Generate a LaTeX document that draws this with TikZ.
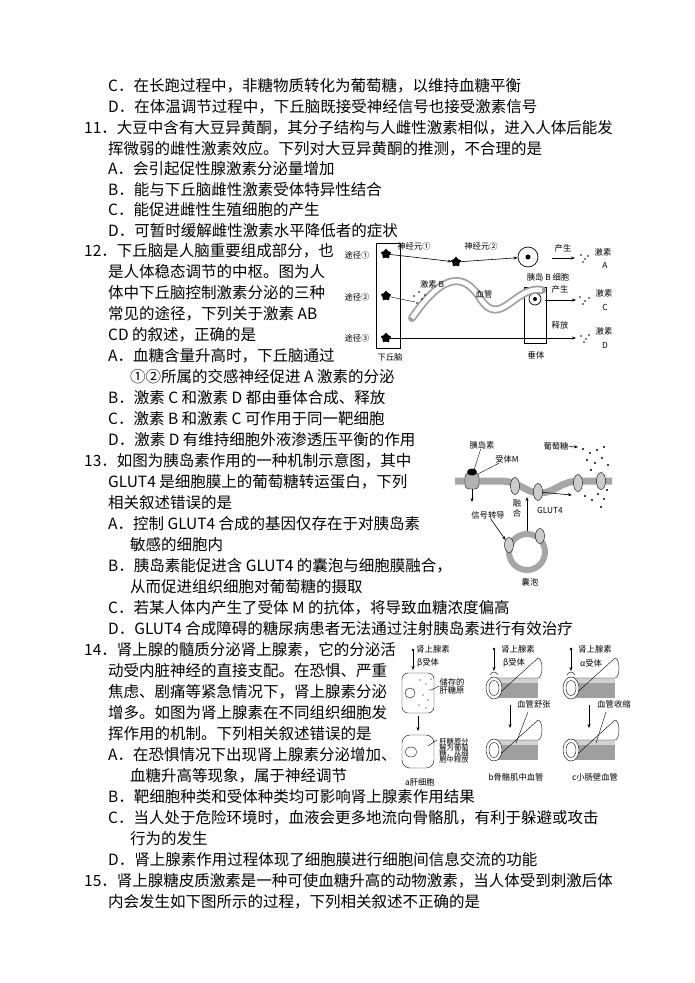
\documentclass[tikz,border=0pt]{standalone}
\usepackage{fontspec}
\setmainfont{Liberation Serif}
\newfontfamily\cjk{Noto Sans CJK SC}
\usetikzlibrary{arrows.meta,shapes.geometric}
\begin{document}
\begin{tikzpicture}[x=1pt,y=-1pt,
  ln/.style={anchor=base west,inner sep=0pt,font=\cjk\fontsize{15.5}{16}\selectfont},
  lb/.style={inner sep=0pt,font=\cjk\fontsize{8.3}{9}\selectfont},
  arr/.style={-{Stealth[length=4pt]},line width=0.6pt},
  neur/.style={star,star points=5,draw,fill=black,minimum size=10pt,inner sep=0pt},
  memb/.style={line width=7pt,draw=gray!70},
  dots/.style={font=\bfseries\fontsize{12}{12}\selectfont}]
\useasboundingbox (0,0) rectangle (695,983);
\fill[white] (0,0) rectangle (695,983);
% ---------- text ----------
\node[ln] (t1) at (108,91) {C．在长跑过程中，非糖物质转化为葡萄糖，以维持血糖平衡};
\node[ln] (t2) at (108,112) {D．在体温调节过程中，下丘脑既接受神经信号也接受激素信号};
\node[ln] (t3) at (84,133) {11．大豆中含有大豆异黄酮，其分子结构与人雌性激素相似，进入人体后能发};
\node[ln] (t4) at (108,154) {挥微弱的雌性激素效应。下列对大豆异黄酮的推测，不合理的是};
\node[ln] (t5) at (108,174) {A．会引起促性腺激素分泌量增加};
\node[ln] (t6) at (108,195) {B．能与下丘脑雌性激素受体特异性结合};
\node[ln] (t7) at (108,215) {C．能促进雌性生殖细胞的产生};
\node[ln] (t8) at (108,236) {D．可暂时缓解雌性激素水平降低者的症状};
\node[ln] (t9) at (84,256) {12．下丘脑是人脑重要组成部分，也};
\node[ln] (t10) at (108,277) {是人体稳态调节的中枢。图为人};
\node[ln] (t11) at (108,298) {体中下丘脑控制激素分泌的三种};
\node[ln] (t12) at (108,319) {常见的途径，下列关于激素 AB};
\node[ln] (t13) at (108,340) {CD 的叙述，正确的是};
\node[ln] (t14) at (108,361) {A．血糖含量升高时，下丘脑通过};
\node[ln] (t15) at (130,382) {①②所属的交感神经促进 A 激素的分泌};
\node[ln] (t16) at (108,403) {B．激素 C 和激素 D 都由垂体合成、释放};
\node[ln] (t17) at (108,424) {C．激素 B 和激素 C 可作用于同一靶细胞};
\node[ln] (t18) at (108,445) {D．激素 D 有维持细胞外液渗透压平衡的作用};
\node[ln] (t19) at (84,466) {13．如图为胰岛素作用的一种机制示意图，其中};
\node[ln] (t20) at (108,487) {GLUT4 是细胞膜上的葡萄糖转运蛋白，下列};
\node[ln] (t21) at (108,508) {相关叙述错误的是};
\node[ln] (t22) at (108,529) {A．控制 GLUT4 合成的基因仅存在于对胰岛素};
\node[ln] (t23) at (130,550) {敏感的细胞内};
\node[ln] (t24) at (108,571) {B．胰岛素能促进含 GLUT4 的囊泡与细胞膜融合，};
\node[ln] (t25) at (130,592) {从而促进组织细胞对葡萄糖的摄取};
\node[ln] (t26) at (108,613) {C．若某人体内产生了受体 M 的抗体，将导致血糖浓度偏高};
\node[ln] (t27) at (108,634) {D．GLUT4 合成障碍的糖尿病患者无法通过注射胰岛素进行有效治疗};
\node[ln] (t28) at (84,655) {14．肾上腺的髓质分泌肾上腺素，它的分泌活};
\node[ln] (t29) at (108,676) {动受内脏神经的直接支配。在恐惧、严重};
\node[ln] (t30) at (108,697) {焦虑、剧痛等紧急情况下，肾上腺素分泌};
\node[ln] (t31) at (108,718) {增多。如图为肾上腺素在不同组织细胞发};
\node[ln] (t32) at (108,739) {挥作用的机制。下列相关叙述错误的是};
\node[ln] (t33) at (108,760) {A．在恐惧情况下出现肾上腺素分泌增加、};
\node[ln] (t34) at (130,781) {血糖升高等现象，属于神经调节};
\node[ln] (t35) at (108,802) {B．靶细胞种类和受体种类均可影响肾上腺素作用结果};
\node[ln] (t36) at (108,823) {C．当人处于危险环境时，血液会更多地流向骨骼肌，有利于躲避或攻击};
\node[ln] (t37) at (130,844) {行为的发生};
\node[ln] (t38) at (108,865) {D．肾上腺素作用过程体现了细胞膜进行细胞间信息交流的功能};
\node[ln] (t39) at (84,886) {15．肾上腺糖皮质激素是一种可使血糖升高的动物激素，当人体受到刺激后体};
\node[ln] (t40) at (108,907) {内会发生如下图所示的过程，下列相关叙述不正确的是};
% ---------- figure 12 ----------
\node[draw,line width=0.7pt,minimum width=24pt,minimum height=105pt,inner sep=0pt] (hyp) at (388,296) {};
\node[lb] (hypl) at (390,357) {下丘脑};
\node[lb] (p1) at (357,255) {途径①};
\node[lb] (p2) at (357,297) {途径②};
\node[lb] (p3) at (357,338) {途径③};
\node[neur] (n1) at (386,254) {};
\node[neur] (n2) at (386,296) {};
\node[neur] (n3) at (386,338) {};
\node[neur] (n4) at (456,262) {};
\node[draw,circle,minimum size=20pt,inner sep=0pt,line width=0.7pt] (bc) at (528,257) {};
\fill (bc.center) circle (2.5pt);
\draw[arr] (n1) -- (n4);
\draw[arr] (n4) -- (bc);
\node[lb] (ne1) at (414,246) {神经元①};
\node[lb] (ne2) at (481,246) {神经元②};
\node[lb] (bcl) at (548,277) {胰岛 B 细胞};
\coordinate (a1) at (552,258);
\coordinate (a2) at (575,258);
\draw[arr] (a1) -- (a2);
\node[lb] (cs1) at (563,248) {产生};
\node[lb] (ha) at (603,252) {激素};
\node[lb] (haa) at (605,265) {A};
\node[draw,line width=0.7pt,minimum width=22pt,minimum height=56pt,inner sep=0pt] (pit) at (535,315) {};
\node[lb] (pitl) at (536,355) {垂体};
\node[draw,circle,minimum size=12pt,inner sep=0pt,line width=0.7pt] (pc) at (535,299) {};
\fill (pc.center) circle (2pt);
% vessel
\draw[line width=8pt,gray!75,line cap=round] (412,318) .. controls (445,270) and (465,275) .. (480,298) .. controls (500,330) and (515,285) .. (542,290);
\draw[line width=4.5pt,white] (412,318) .. controls (445,270) and (465,275) .. (480,298) .. controls (500,330) and (515,285) .. (542,290);
\node[lb] (hb) at (432,284) {激素 B};
\draw (n2) -- (415,302);
\node[lb] (ves) at (484,294) {血管};
\node[lb] (cs2) at (560,289) {产生};
\coordinate (c1) at (545,300);
\coordinate (c2) at (576,300);
\draw[arr] (c1) -- (c2);
\node[lb] (hc) at (604,293) {激素};
\node[lb] (hcc) at (605,307) {C};
\coordinate (d2) at (576,338);
\draw[arr] (n3) -- (d2);
\node[lb] (sf) at (560,325) {释放};
\node[lb] (hd) at (604,331) {激素};
\node[lb] (hdd) at (605,345) {D};
\foreach \x/\y in {581/255,585/259,583/262,588/256,580/297,585/301,589/298,583/304,581/336,586/339,584/342,589/335,414/296,419/292,422/299,417/303,425/295}
  \fill (\x,\y) circle (0.9pt);
% ---------- figure 13 ----------
\draw[memb] (455,481) -- (500,481) .. controls (520,481) and (525,493) .. (540,493) .. controls (555,493) and (560,481) .. (580,481) -- (612,481);
\node[draw,fill=gray!60,minimum width=14pt,minimum height=16pt,inner sep=0pt,rounded corners=4pt] (rm) at (472,481) {};
\fill (472,472) ellipse (5pt and 3.5pt);
\node[lb] (ins) at (482,445) {胰岛素};
\node[lb] (rml) at (507,459) {受体M};
\draw (ins) -- (474,470);
\draw (rml) -- (478,474);
\foreach \i/\x/\y in {g1/515/486,g2/538/492,g3/578/483,g4/601/481}
  \node[draw,fill=gray!40,ellipse,minimum width=9pt,minimum height=17pt,inner sep=0pt] (\i) at (\x,\y) {};
\node[lb] (glc) at (556,446) {葡萄糖};
\coordinate (gl) at (578,447);
\draw[arr] (glc) -- (gl);
\foreach \x/\y in {583/449,590/453,597/450,604/447,587/460,595/463,602/458,608/465,591/470,585/496,592/500,598/494,604/499,601/507,607/490}
  \fill (\x,\y) circle (1.1pt);
\draw[arr] (g2) -- (572,495);
\coordinate (sd) at (472,502);
\draw[arr] (rm) -- (sd);
\node[lb] (sig) at (488,515) {信号转导};
\node[draw=gray!70,line width=6pt,circle,minimum size=36pt,inner sep=0pt] (vs) at (527,552) {};
\node[draw,fill=gray!40,ellipse,minimum width=9pt,minimum height=15pt,inner sep=0pt] (g5) at (509,545) {};
\node[draw,fill=gray!40,ellipse,minimum width=9pt,minimum height=15pt,inner sep=0pt] (g6) at (540,536) {};
\draw[arr] (sig) -- (g5);
\node[lb] (vsl) at (530,582) {囊泡};
\draw[arr] (vs.north) -- (527,497);
\node[lb,align=center] (fh) at (517,508) {融\\[1pt]合};
\node[lb] (gt) at (550,510) {GLUT4};
% ---------- figure 14 ----------
\tikzset{tube/.pic={
  \fill[gray!75] (0,-10) rectangle (44,10);
  \fill[gray!35] (0,-10) rectangle (44,-5);
  \draw (0,-10) -- (44,-10) arc[start angle=90,end angle=-90,x radius=4,y radius=10] -- (0,10);
  \draw[fill=white] (0,0) ellipse (8 and 11);
  \draw (0,0) ellipse (5 and 7.5);}}
\path (494,688) pic {tube};
\path (494,750) pic {tube};
\path (571,688) pic {tube};
\path (571,750) pic {tube};
\foreach \x in {494,571}{
  \fill (\x,649) circle (1.3pt);
  \draw[arr] (\x,650) -- (\x,671);
  \draw (\x-4,675) .. controls (\x-2,671) and (\x+2,671) .. (\x+4,675);
}
\node[lb] (e1) at (518,649) {肾上腺素};
\node[lb] (e2) at (595,649) {肾上腺素};
\node[lb] (rb) at (514,663) {β受体};
\node[lb] (ra) at (591,663) {α受体};
\coordinate (b1) at (510,705);
\coordinate (b2) at (510,728);
\draw[arr] (b1) -- (b2);
\coordinate (c3) at (589,705);
\coordinate (c4) at (589,728);
\draw[arr] (c3) -- (c4);
\node[lb] (bs) at (534,704) {血管舒张};
\node[lb] (bc2) at (614,704) {血管收缩};
\draw (516,743) -- (528,712);
\draw (596,743) -- (606,712);
\node[lb] (bl) at (516,777) {b骨骼肌中血管};
\node[lb] (cl) at (595,777) {c小肠壁血管};
% liver cell
\draw[rounded corners=6pt] (402,673) rectangle (434,713);
\draw (410,693) circle (5pt);
\foreach \x/\y in {420/680,426/684,430/690,423/695,428/700,419/705,426/708,431/679}
  \fill (\x,\y) circle (0.7pt);
\fill (413,650) circle (1.3pt);
\node[lb] (e3) at (433,649) {肾上腺素};
\node[lb] (rb2) at (428,663) {β受体};
\draw[arr] (413,651) -- (413,670);
\node[lb,align=left] (gly) at (452,686) {储存的\\[-1pt]肝糖原};
\draw (gly.west) -- (431,690);
\coordinate (lv1) at (418,716);
\coordinate (lv2) at (418,731);
\draw[arr] (lv1) -- (lv2);
\draw[rounded corners=8pt] (402,735) rectangle (434,768);
\draw (411,752) ellipse (6pt and 5pt);
\node[inner sep=0pt,font=\cjk\fontsize{7.3}{8}\selectfont,align=left] (gl2) at (454,751) {肝糖原分\\[-2pt]解为葡萄\\[-2pt]糖，从细\\[-2pt]胞中释放};
\draw (437,740) -- (428,746);
\node[lb] (al) at (420,782) {a肝细胞};
\end{tikzpicture}
\end{document}
